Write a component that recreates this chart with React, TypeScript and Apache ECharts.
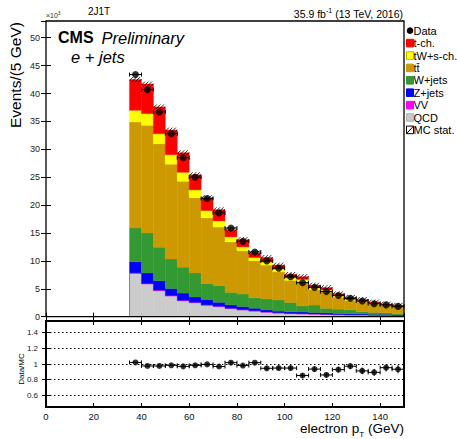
import React, { useEffect, useRef } from "react";
import * as echarts from "echarts";

// ---- data (units of 10^3 events per 5 GeV) ----
const binLow = [35, 40, 45, 50, 55, 60, 65, 70, 75, 80, 85, 90, 95, 100, 105, 110, 115, 120, 125, 130, 135, 140, 145];
const binWidth = 5;
const qcd = [7.75, 5.85, 4.65, 3.7, 2.85, 2.5, 2.05, 1.8, 1.45, 1.2, 1.0, 0.8, 0.65, 0.55, 0.5, 0.45, 0.4, 0.35, 0.3, 0.3, 0.25, 0.25, 0.2];
const vv = [0.1, 0.1, 0.1, 0.09, 0.08, 0.08, 0.07, 0.07, 0.06, 0.06, 0.05, 0.05, 0.05, 0.04, 0.04, 0.04, 0.03, 0.03, 0.03, 0.03, 0.02, 0.02, 0.02];
const zJets = [2.0, 1.9, 1.7, 1.25, 1.3, 0.96, 0.95, 0.7, 0.6, 0.55, 0.45, 0.35, 0.3, 0.3, 0.3, 0.25, 0.25, 0.2, 0.2, 0.18, 0.15, 0.15, 0.12];
const wJets = [6.05, 7.15, 6.0, 5.3, 4.65, 4.3, 2.85, 3.0, 2.25, 2.25, 1.9, 2.0, 2.0, 1.65, 1.1, 1.35, 0.8, 0.77, 0.7, 0.4, 0.36, 0.26, 0.2];
const ttbar = [19.0, 19.3, 18.55, 17.0, 15.4, 13.5, 11.8, 10.5, 9.05, 7.75, 6.65, 6.05, 5.05, 3.98, 4.34, 2.75, 3.03, 2.15, 1.7, 1.72, 1.46, 1.25, 1.22];
const tWs = [2.1, 2.1, 1.8, 1.7, 1.6, 1.4, 1.3, 1.1, 0.9, 0.7, 0.55, 0.55, 0.5, 0.45, 0.4, 0.35, 0.3, 0.25, 0.22, 0.2, 0.18, 0.15, 0.13];
const tChannel = [5.5, 5.3, 4.8, 4.4, 3.5, 2.7, 2.3, 2.0, 1.3, 1.3, 0.8, 0.8, 0.7, 0.6, 0.5, 0.45, 0.4, 0.35, 0.3, 0.25, 0.2, 0.18, 0.15];
const mcStat = [0.3, 0.3, 0.28, 0.26, 0.24, 0.22, 0.2, 0.18, 0.16, 0.15, 0.14, 0.13, 0.12, 0.11, 0.11, 0.1, 0.1, 0.09, 0.08, 0.08, 0.07, 0.07, 0.06];
const dataCounts = [43.4, 40.7, 36.7, 32.8, 28.5, 25.0, 21.2, 18.6, 15.9, 13.5, 11.6, 10.0, 8.7, 7.16, 6.1, 5.25, 4.5, 3.8, 3.3, 2.8, 2.33, 2.12, 1.85];
const ratio = [1.02, 0.975, 0.975, 0.983, 0.97, 0.983, 0.995, 0.968, 1.017, 0.98, 1.017, 0.945, 0.948, 0.948, 0.853, 0.935, 0.86, 0.928, 0.972, 0.912, 0.893, 0.953, 0.933];
const ratioErr = [0.01, 0.01, 0.01, 0.012, 0.013, 0.014, 0.015, 0.017, 0.018, 0.02, 0.021, 0.023, 0.025, 0.027, 0.03, 0.032, 0.034, 0.036, 0.039, 0.042, 0.045, 0.048, 0.052];
const ratioTicks = [0.6, 0.8, 1, 1.2, 1.4];

// ---- styling ----
const FONT = "'Liberation Sans', Arial, Helvetica, sans-serif";
const stackDefs = [
  { name: "QCD", values: qcd, color: "#cccccc" },
  { name: "VV", values: vv, color: "#ff00ff" },
  { name: "Z+jets", values: zJets, color: "#0000ff" },
  { name: "W+jets", values: wJets, color: "#339933" },
  { name: "tt\u0304", values: ttbar, color: "#cc9900" },
  { name: "tW+s-ch.", values: tWs, color: "#ffff00" },
  { name: "t-ch.", values: tChannel, color: "#ff0000" },
];
const legendItems = [
  { label: "Data", kind: "data", color: "#000", edge: "#000" },
  { label: "t-ch.", kind: "box", color: "#ff0000", edge: "#ff0000" },
  { label: "tW+s-ch.", kind: "box", color: "#ffff00", edge: "#b8b800" },
  { label: "tt\u0304", kind: "box", color: "#cc9900", edge: "#cc9900" },
  { label: "W+jets", kind: "box", color: "#339933", edge: "#339933" },
  { label: "Z+jets", kind: "box", color: "#0000ff", edge: "#0000ff" },
  { label: "VV", kind: "box", color: "#ff00ff", edge: "#ff00ff" },
  { label: "QCD", kind: "box", color: "#c8c8c8", edge: "#b4b4b4" },
  { label: "MC stat.", kind: "hatch", color: "#fff", edge: "#000" },
];

const G_LEFT = 46;
const G_W = 358;
const MAIN_TOP = 21;
const MAIN_H = 295.7;
const R_TOP = 321;
const R_H = 86;

function rectItem(color: string) {
  return (params: any, api: any) => {
    const a = api.coord([api.value(0), api.value(3)]);
    const b = api.coord([api.value(1), api.value(2)]);
    return {
      type: "rect",
      shape: { x: a[0], y: a[1], width: b[0] - a[0], height: b[1] - a[1] },
      style: { fill: color, stroke: color, lineWidth: 0.4 },
    };
  };
}

function hatchItem(params: any, api: any) {
  const a = api.coord([api.value(0), api.value(3)]);
  const b = api.coord([api.value(1), api.value(2)]);
  let top = a[1];
  let bot = b[1];
  const minH = 5;
  if (bot - top < minH) {
    const c = (top + bot) / 2;
    top = c - minH / 2;
    bot = c + minH / 2;
  }
  const h = bot - top;
  const x0 = a[0];
  const x1 = b[0];
  const children: any[] = [];
  for (let s = x0 - h; s < x1; s += 3.5) {
    let ax = s, ay = bot, bx = s + h, by = top;
    if (ax < x0) { ay = bot - (x0 - ax); ax = x0; }
    if (bx > x1) { by = top + (bx - x1); bx = x1; }
    if (bx <= ax) continue;
    children.push({ type: "line", shape: { x1: ax, y1: ay, x2: bx, y2: by }, style: { stroke: "#000", lineWidth: 0.8 } });
  }
  return { type: "group", children };
}

function errItem(withVertical: boolean) {
  return (params: any, api: any) => {
    const lo = api.value(0), hi = api.value(1), y = api.value(2), e = api.value(3);
    const pl = api.coord([lo, y]);
    const ph = api.coord([hi, y]);
    const children: any[] = [
      { type: "line", shape: { x1: pl[0], y1: pl[1], x2: ph[0], y2: ph[1] }, style: { stroke: "#000", lineWidth: 1 } },
      { type: "line", shape: { x1: pl[0], y1: pl[1] - 2, x2: pl[0], y2: pl[1] + 2 }, style: { stroke: "#000", lineWidth: 1 } },
      { type: "line", shape: { x1: ph[0], y1: ph[1] - 2, x2: ph[0], y2: ph[1] + 2 }, style: { stroke: "#000", lineWidth: 1 } },
    ];
    if (withVertical) {
      const c = (lo + hi) / 2;
      const pt = api.coord([c, y + e]);
      const pb = api.coord([c, y - e]);
      children.push({ type: "line", shape: { x1: pt[0], y1: pt[1], x2: pb[0], y2: pb[1] }, style: { stroke: "#000", lineWidth: 1 } });
    }
    return { type: "group", children };
  };
}

function xAxisCfg(gridIndex: number, position: string, showLabels: boolean) {
  return {
    type: "value",
    gridIndex,
    position,
    min: 0,
    max: 150,
    interval: 20,
    axisLine: { show: false },
    axisTick: { show: true, inside: true, length: 4, lineStyle: { color: "#000", width: 1 } },
    axisLabel: { show: showLabels, fontSize: 9.5, color: "#111", fontFamily: FONT, margin: 4, showMaxLabel: false },
    splitLine: { show: false },
  };
}

export default function App() {
  const ref = useRef<HTMLDivElement>(null);

  useEffect(() => {
    if (!ref.current) return;
    const chart = echarts.init(ref.current, undefined, { renderer: "svg" });

    // cumulative stack
    const base = binLow.map(() => 0);
    const stackSeries: any[] = stackDefs.map((def) => {
      const items = binLow.map((lo, i) => {
        const y0 = base[i];
        const y1 = y0 + def.values[i];
        base[i] = y1;
        return [lo, lo + binWidth, y0, y1];
      });
      return {
        type: "custom",
        name: def.name,
        xAxisIndex: 0,
        yAxisIndex: 0,
        renderItem: rectItem(def.color),
        encode: { x: [0, 1], y: [2, 3] },
        data: items,
        silent: true,
      };
    });
    const totals = base.slice();

    const hatchSeries = {
      type: "custom",
      name: "MC stat.",
      xAxisIndex: 0,
      yAxisIndex: 0,
      renderItem: hatchItem,
      encode: { x: [0, 1], y: [2, 3] },
      data: binLow.map((lo, i) => [lo, lo + binWidth, totals[i] - mcStat[i], totals[i] + mcStat[i]]),
      silent: true,
    };

    const emptyOutline = {
      type: "line",
      xAxisIndex: 0,
      yAxisIndex: 0,
      data: [[0, 0], [binLow[0], 0]],
      symbol: "none",
      lineStyle: { color: "#7a4a8a", width: 1.2, type: [2, 1.5] },
      silent: true,
    };
    const vvOutline = {
      type: "line",
      xAxisIndex: 0,
      yAxisIndex: 0,
      data: [[binLow[0], 0], [binLow[0], qcd[0] + vv[0]]],
      symbol: "none",
      lineStyle: { color: "#b060c8", width: 1 },
      silent: true,
    };

    const dataErr = {
      type: "custom",
      xAxisIndex: 0,
      yAxisIndex: 0,
      renderItem: errItem(false),
      encode: { x: [0, 1], y: 2 },
      data: binLow.map((lo, i) => [lo, lo + binWidth, dataCounts[i], 0]),
      silent: true,
    };
    const dataPts = {
      type: "scatter",
      name: "Data",
      xAxisIndex: 0,
      yAxisIndex: 0,
      symbol: "circle",
      symbolSize: 7,
      itemStyle: { color: "#000" },
      data: binLow.map((lo, i) => [lo + binWidth / 2, dataCounts[i]]),
      silent: true,
    };

    const ratioErrSeries = {
      type: "custom",
      xAxisIndex: 2,
      yAxisIndex: 2,
      renderItem: errItem(true),
      encode: { x: [0, 1], y: 2 },
      data: binLow.map((lo, i) => [lo, lo + binWidth, ratio[i], ratioErr[i]]),
      silent: true,
      markLine: {
        silent: true,
        symbol: ["none", "none"],
        label: { show: false },
        lineStyle: { type: [1.5, 2.5], color: "#000", width: 1 },
        data: ratioTicks.map((v) => ({ yAxis: v })),
      },
    };
    const ratioPts = {
      type: "scatter",
      xAxisIndex: 2,
      yAxisIndex: 2,
      symbol: "circle",
      symbolSize: 6,
      itemStyle: { color: "#000" },
      data: binLow.map((lo, i) => [lo + binWidth / 2, ratio[i]]),
      silent: true,
    };

    // legend graphics
    const legendEls: any[] = [];
    legendItems.forEach((it, i) => {
      const cy = 30.7 + i * 12.4;
      if (it.kind === "data") {
        legendEls.push({ type: "circle", shape: { cx: 410, cy, r: 3.3 }, style: { fill: "#000" } });
      } else if (it.kind === "box") {
        legendEls.push({
          type: "rect",
          z: 10,
          shape: { x: 406.5, y: cy - 3.8, width: 7, height: 7.6 },
          style: { fill: it.color, stroke: it.edge, lineWidth: 1 },
        });
      } else {
        legendEls.push({
          type: "rect",
          z: 10,
          shape: { x: 406.5, y: cy - 3.8, width: 7, height: 7.6 },
          style: { fill: "#fff", stroke: "#000", lineWidth: 1 },
        });
        legendEls.push({
          type: "line",
          z: 10,
          shape: { x1: 406.5, y1: cy + 3.8, x2: 413.5, y2: cy - 3.8 },
          style: { stroke: "#000", lineWidth: 1 },
        });
      }
      legendEls.push({
        type: "text",
        z: 5,
        style: {
          text: it.label,
          x: 413.5,
          y: cy,
          fontSize: 11,
          lineHeight: 12,
          fontFamily: FONT,
          fill: "#000",
          textAlign: "left",
          textVerticalAlign: "middle",
        },
      });
    });

    const texts: any[] = [
      {
        type: "text",
        style: { text: "2J1T", x: 88, y: 11, fontSize: 10, fontFamily: FONT, fill: "#000", textAlign: "left", textVerticalAlign: "middle" },
      },
      {
        type: "text",
        style: {
          text: "{n|×10}{s|3}",
          x: 46,
          y: 15,
          fontFamily: FONT,
          fill: "#333",
          textAlign: "left",
          textVerticalAlign: "middle",
          rich: {
            n: { fontSize: 7, fontFamily: FONT, fill: "#333", lineHeight: 10 },
            s: { fontSize: 5, fontFamily: FONT, fill: "#333", verticalAlign: "top", lineHeight: 10 },
          },
        },
      },
      {
        type: "text",
        style: {
          text: "{n|35.9 fb}{s|-1}{n| (13 TeV, 2016)}",
          x: 403,
          y: 13.5,
          fontFamily: FONT,
          fill: "#000",
          textAlign: "right",
          textVerticalAlign: "middle",
          rich: {
            n: { fontSize: 10.5, fontFamily: FONT, fill: "#000", lineHeight: 14 },
            s: { fontSize: 7, fontFamily: FONT, fill: "#000", verticalAlign: "top", lineHeight: 14 },
          },
        },
      },
      {
        type: "text",
        style: { text: "CMS", x: 58, y: 37.5, fontSize: 16, fontWeight: "bold", fontFamily: FONT, fill: "#000", textAlign: "left", textVerticalAlign: "middle" },
      },
      {
        type: "text",
        style: { text: "Preliminary", x: 101.5, y: 37.5, fontSize: 16.5, fontStyle: "italic", fontFamily: FONT, fill: "#000", textAlign: "left", textVerticalAlign: "middle" },
      },
      {
        type: "text",
        style: { text: "e + jets", x: 71, y: 56.5, fontSize: 16.5, fontStyle: "italic", fontFamily: FONT, fill: "#000", textAlign: "left", textVerticalAlign: "middle" },
      },
      {
        type: "text",
        rotation: Math.PI / 2,
        x: 15,
        y: 128,
        style: { text: "Events/(5 GeV)", x: 0, y: 0, fontSize: 15.5, fontFamily: FONT, fill: "#000", textAlign: "left", textVerticalAlign: "middle" },
      },
      {
        type: "text",
        rotation: Math.PI / 2,
        x: 21,
        y: 369,
        style: { text: "Data/MC", x: 0, y: 0, fontSize: 8, fontFamily: FONT, fill: "#000", textAlign: "center", textVerticalAlign: "middle" },
      },
      {
        type: "text",
        style: {
          text: "{n|electron p}{s|T}{n| (GeV)}",
          x: 404,
          y: 428,
          fontFamily: FONT,
          fill: "#000",
          textAlign: "right",
          textVerticalAlign: "middle",
          rich: {
            n: { fontSize: 13.5, fontFamily: FONT, fill: "#000", lineHeight: 20 },
            s: { fontSize: 8, fontFamily: FONT, fill: "#000", verticalAlign: "bottom", lineHeight: 20 },
          },
        },
      },
      // frames
      {
        type: "rect",
        z: 100,
        shape: { x: G_LEFT, y: MAIN_TOP, width: G_W, height: MAIN_H },
        style: { fill: "none", stroke: "#000", lineWidth: 1.3 },
      },
      {
        type: "rect",
        z: 100,
        shape: { x: G_LEFT, y: R_TOP, width: G_W, height: R_H },
        style: { fill: "none", stroke: "#000", lineWidth: 2 },
      },
    ];

    const option: any = {
      animation: false,
      backgroundColor: "#fff",
      grid: [
        { left: G_LEFT, top: MAIN_TOP, width: G_W, height: MAIN_H, containLabel: false },
        { left: G_LEFT, top: R_TOP, width: G_W, height: R_H, containLabel: false },
      ],
      xAxis: [
        xAxisCfg(0, "bottom", false),
        xAxisCfg(0, "top", false),
        xAxisCfg(1, "bottom", true),
        xAxisCfg(1, "top", false),
      ],
      yAxis: [
        {
          type: "value",
          gridIndex: 0,
          position: "left",
          min: 0,
          max: 53,
          interval: 5,
          axisLine: { show: false },
          axisTick: { show: true, inside: true, length: 5, lineStyle: { color: "#000" } },
          axisLabel: { show: true, fontSize: 9, color: "#222", fontFamily: FONT, margin: 6, showMaxLabel: false },
          splitLine: { show: false },
        },
        {
          type: "value",
          gridIndex: 0,
          position: "right",
          min: 0,
          max: 53,
          interval: 5,
          axisLine: { show: false },
          axisTick: { show: true, inside: true, length: 5, lineStyle: { color: "#000" } },
          axisLabel: { show: false },
          splitLine: { show: false },
        },
        {
          type: "value",
          gridIndex: 1,
          position: "left",
          min: 0.45,
          max: 1.55,
          axisLine: { show: false },
          axisTick: { show: true, inside: true, length: 4, customValues: ratioTicks, lineStyle: { color: "#000" } },
          axisLabel: { show: true, fontSize: 8, color: "#222", fontFamily: FONT, margin: 8, customValues: ratioTicks, formatter: (v: number) => String(Math.round(v * 10) / 10) },
          splitLine: { show: false },
        },
        {
          type: "value",
          gridIndex: 1,
          position: "right",
          min: 0.45,
          max: 1.55,
          axisLine: { show: false },
          axisTick: { show: true, inside: true, length: 4, customValues: ratioTicks, lineStyle: { color: "#000" } },
          axisLabel: { show: false },
          splitLine: { show: false },
        },
      ],
      series: [...stackSeries, emptyOutline, vvOutline, hatchSeries, dataErr, dataPts, ratioErrSeries, ratioPts],
      graphic: [...texts, ...legendEls],
    };
    chart.setOption(option);
    return () => chart.dispose();
  }, []);

  return <div ref={ref} style={{ position: "fixed", left: 0, top: 0, width: 457, height: 439, background: "#fff" }} />;
}
